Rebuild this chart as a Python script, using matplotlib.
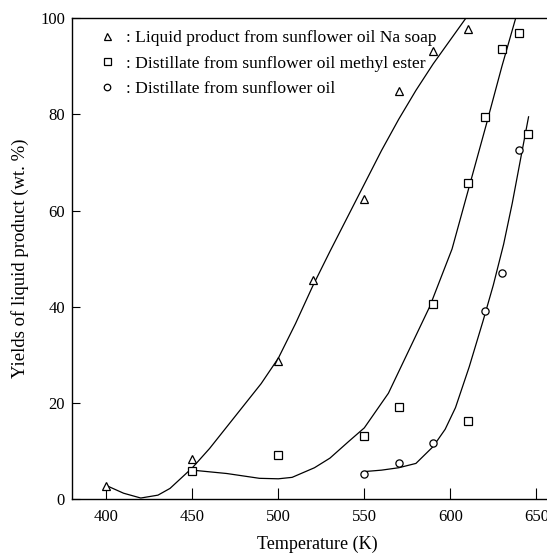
import matplotlib
matplotlib.use("Agg")
import matplotlib.pyplot as plt

plt.rcParams['font.family'] = ['Liberation Serif', 'DejaVu Serif']

# measured yields (wt. %) against temperature (K)
soap_T = [400, 450, 500, 520, 550, 570, 590, 610]
soap_Y = [2.8, 8.3, 28.8, 45.6, 62.4, 84.9, 93.1, 97.8]

ester_T = [450, 500, 550, 570, 590, 610, 620, 630, 640]
ester_Y = [5.8, 9.2, 13.0, 19.1, 40.5, 65.7, 79.5, 93.6, 96.9]

oil_T = [550, 570, 590, 610, 620, 630, 640, 645]
oil_Y = [5.2, 7.4, 11.6, 16.3, 39.1, 47.0, 72.7, 75.9]
oil_marker = ['o', 'o', 'o', 's', 'o', 'o', 'o', 's']

# hand-fitted trend curves
fit1_T = [400, 410, 420, 430, 437, 450, 460, 470, 480, 490, 500, 510, 520, 530,
          540, 550, 560, 570, 580, 590, 600, 609]
fit1_Y = [2.8, 1.2, 0.2, 0.8, 2.2, 6.5, 10.5, 15, 19.5, 24, 29.3, 36.5, 44.3, 51.5,
          58.5, 65.5, 72.5, 79, 85, 90.5, 95.5, 100]

fit2_T = [450, 470, 489, 500, 508, 521, 530, 541, 550, 564, 576, 588, 601, 611, 621, 630, 638]
fit2_Y = [6.0, 5.3, 4.3, 4.2, 4.5, 6.5, 8.5, 12, 14.8, 22, 31, 40, 52, 65, 78, 90, 100]

fit3_T = [550, 560, 570, 580, 590, 597, 603, 611, 619, 625, 631, 636, 641, 645.5]
fit3_Y = [5.7, 6.0, 6.5, 7.4, 10.9, 14.5, 19, 27.5, 37, 44.5, 53, 61.5, 71, 79.5]

labels = [': Liquid product from sunflower oil Na soap',
          ': Distillate from sunflower oil methyl ester',
          ': Distillate from sunflower oil']

fig = plt.figure(figsize=(5.47, 5.54), dpi=100)
ax = fig.add_axes([0.1316, 0.0993, 0.896, 0.8677])

line_kw = dict(color='black', lw=0.9)
ax.plot(fit1_T, fit1_Y, **line_kw)
ax.plot(fit2_T, fit2_Y, **line_kw)
ax.plot(fit3_T, fit3_Y, **line_kw)

mk = dict(color='none', mfc='white', mec='black', mew=0.9, ms=5.6, ls='none')
h1, = ax.plot(soap_T, soap_Y, marker='^', **mk)
h2, = ax.plot(ester_T, ester_Y, marker='s', **mk)
for t, y, m in zip(oil_T, oil_Y, oil_marker):
    ax.plot([t], [y], marker=m, **dict(mk, ms=5.2))
h3, = ax.plot([], [], marker='o', **dict(mk, ms=5.2))

ax.legend([h1, h2, h3], labels, loc='upper left', frameon=False,
          handlelength=0.6, handletextpad=0.79, borderaxespad=0.0,
          bbox_to_anchor=(0.0464, 0.99), labelspacing=0.51, fontsize=12.6,
          markerscale=0.9)

ax.set_xlim(380, 665)
ax.set_ylim(0, 100)
ax.set_xticks([400, 450, 500, 550, 600, 650])
ax.set_yticks([0, 20, 40, 60, 80, 100])
ax.tick_params(axis='x', direction='in', length=7.7, width=0.8, pad=7, labelsize=12)
ax.tick_params(axis='y', direction='in', length=6, width=0.8, pad=5, labelsize=12)
ax.spines['right'].set_visible(False)
for s in ['left', 'bottom', 'top']:
    ax.spines[s].set_linewidth(1.0)

ax.set_xlabel('Temperature (K)', fontsize=13, labelpad=8)
ax.set_ylabel('Yields of liquid product (wt. %)', fontsize=13.5, labelpad=8)

fig.savefig('out.png', dpi=100)
